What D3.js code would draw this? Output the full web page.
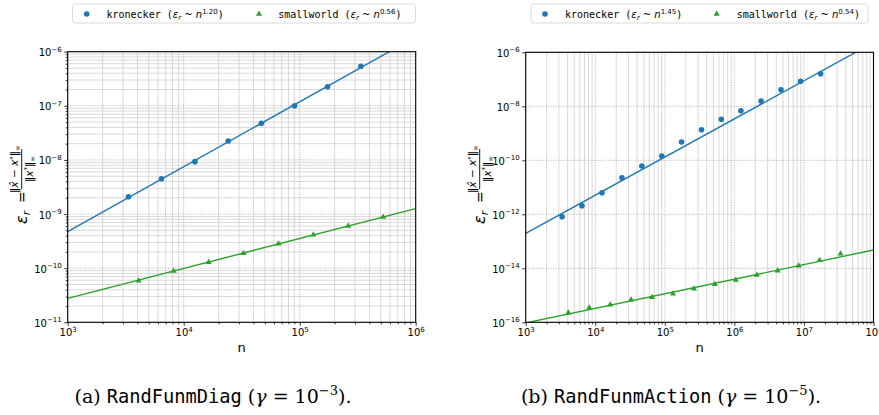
<!DOCTYPE html>
<html>
<head>
<meta charset="utf-8">
<script src="https://cdn.jsdelivr.net/npm/d3@7"></script>
<style>
  body { margin: 0; background: #fff; }
  svg { display: block; }
  .tick text { font-family: 'DejaVu Sans', sans-serif; }
</style>
</head>
<body>
<div id="chart"></div>
<script>
// problem sizes
const kronN = [3340, 6430, 12500, 24200, 46700, 90400, 174000, 337000, 649000, 1240000, 2420000, 4680000, 8970000, 17400000];
const swN = [4096, 8192, 16384, 32768, 65536, 131072, 262144, 524288, 1048576, 2097152, 4194304, 8388608, 16777216, 33554432];

// (a) RandFunmDiag
const diagKron = [2.09e-9, 4.5e-9, 9.3e-9, 2.24e-8, 4.75e-8, 1.0e-7, 2.25e-7, 5.37e-7];
const diagSw = [5.87e-11, 8.87e-11, 1.29e-10, 1.88e-10, 2.83e-10, 4.16e-10, 6.02e-10, 8.83e-10];
const diagKronFit = [[1e3, 4.72e-10], [1e6, 1.88e-6]];
const diagSwFit = [[1e3, 2.77e-11], [1e6, 1.26e-9]];

// (b) RandFunmAction
const actKron = [8.15e-13, 2.08e-12, 6.3e-12, 2.27e-11, 6.15e-11, 1.44e-10, 4.76e-10, 1.36e-9, 3.3e-9, 6.87e-9, 1.57e-8, 4.12e-8, 8.43e-8, 1.61e-7];
const actSw = [2.27e-16, 3.48e-16, 4.49e-16, 6.87e-16, 8.43e-16, 1.15e-15, 1.75e-15, 2.55e-15, 3.69e-15, 5.65e-15, 8.15e-15, 1.25e-14, 1.98e-14, 3.48e-14];
const actKronFit = [[1e3, 1.98e-13], [1e8, 2.3e-6]];
const actSwFit = [[1e3, 9.5e-17], [1e8, 4.77e-14]];

const kronColor = '#1f77b4';
const swColor = '#2ca02c';

const svg = d3.select('#chart').append('svg')
  .attr('width', 879)
  .attr('height', 415);

function supText(sel, base, exp, size) {
  sel.append('tspan').text(base);
  sel.append('tspan').attr('dy', -size * 0.45).attr('font-size', size * 0.7).text(exp);
}

function drawPanel(p) {
  const x = d3.scaleLog().domain(p.xDomain).range([p.left, p.right]);
  const y = d3.scaleLog().domain(p.yDomain).range([p.bottom, p.top]);
  const g = svg.append('g');

  const xMajor = d3.range(Math.log10(p.xDomain[0]), Math.log10(p.xDomain[1]) + 1).map(e => Math.pow(10, e));
  const xMinor = [];
  xMajor.slice(0, -1).forEach(v => { for (let k = 2; k < 10; k++) xMinor.push(v * k); });
  const yMajor = p.yTicks;
  const yMinor = [];
  if (p.yMinor) {
    yMajor.slice(0, -1).forEach(v => { for (let k = 2; k < 10; k++) yMinor.push(v * k); });
  }

  // grid
  g.append('g').selectAll('line').data(xMinor).enter().append('line')
    .attr('x1', d => x(d)).attr('x2', d => x(d))
    .attr('y1', p.top).attr('y2', p.bottom)
    .attr('stroke', '#cfcfcf').attr('stroke-width', 0.8);
  g.append('g').selectAll('line').data(yMinor).enter().append('line')
    .attr('y1', d => y(d)).attr('y2', d => y(d))
    .attr('x1', p.left).attr('x2', p.right)
    .attr('stroke', '#cfcfcf').attr('stroke-width', 0.8);
  g.append('g').selectAll('line').data(xMajor).enter().append('line')
    .attr('x1', d => x(d)).attr('x2', d => x(d))
    .attr('y1', p.top).attr('y2', p.bottom)
    .attr('stroke', '#a0a0a0').attr('stroke-width', 0.8).attr('stroke-dasharray', '1,1.5');
  g.append('g').selectAll('line').data(yMajor).enter().append('line')
    .attr('y1', d => y(d)).attr('y2', d => y(d))
    .attr('x1', p.left).attr('x2', p.right)
    .attr('stroke', '#a0a0a0').attr('stroke-width', 0.8).attr('stroke-dasharray', '1,1.5');

  // clip
  const clipId = 'clip' + p.id;
  svg.append('clipPath').attr('id', clipId).append('rect')
    .attr('x', p.left).attr('y', p.top)
    .attr('width', p.right - p.left).attr('height', p.bottom - p.top);

  const line = d3.line().x(d => x(d[0])).y(d => y(d[1]));
  const plot = g.append('g').attr('clip-path', `url(#${clipId})`);
  plot.append('path').datum(p.kronFit).attr('d', line)
    .attr('fill', 'none').attr('stroke', kronColor).attr('stroke-width', 1.4);
  plot.append('path').datum(p.swFit).attr('d', line)
    .attr('fill', 'none').attr('stroke', swColor).attr('stroke-width', 1.4);

  g.append('g').selectAll('circle').data(p.kron).enter().append('circle')
    .attr('cx', (d, i) => x(kronN[i])).attr('cy', d => y(d))
    .attr('r', 2.8).attr('fill', kronColor);
  const tri = d3.symbol().type(d3.symbolTriangle).size(16);
  g.append('g').selectAll('path').data(p.sw).enter().append('path')
    .attr('d', tri)
    .attr('transform', (d, i) => `translate(${x(swN[i])},${y(d)})`)
    .attr('fill', swColor);

  // axes
  const xAxis = g.append('g').attr('transform', `translate(0,${p.bottom})`)
    .call(d3.axisBottom(x).tickValues(xMajor).tickSize(3.5).tickFormat(''));
  xAxis.select('.domain').remove();
  xAxis.selectAll('.tick').append('text')
    .attr('y', 14).attr('fill', '#000').attr('font-size', 10).attr('text-anchor', 'middle')
    .each(function (d) { supText(d3.select(this), '10', String(Math.round(Math.log10(d))), 10); });
  g.append('g').attr('transform', `translate(0,${p.bottom})`)
    .call(d3.axisBottom(x).tickValues(xMinor).tickSize(2).tickFormat(''))
    .select('.domain').remove();

  const yAxis = g.append('g').attr('transform', `translate(${p.left},0)`)
    .call(d3.axisLeft(y).tickValues(yMajor).tickSize(3.5).tickFormat(''));
  yAxis.select('.domain').remove();
  yAxis.selectAll('.tick').append('text')
    .attr('x', -6).attr('dy', 4).attr('fill', '#000').attr('font-size', 10).attr('text-anchor', 'end')
    .each(function (d) { supText(d3.select(this), '10', '\u2212' + Math.round(-Math.log10(d)), 10); });
  if (yMinor.length) {
    g.append('g').attr('transform', `translate(${p.left},0)`)
      .call(d3.axisLeft(y).tickValues(yMinor).tickSize(2).tickFormat(''))
      .select('.domain').remove();
  }
  g.selectAll('.tick line').attr('stroke', '#000').attr('stroke-width', 0.8);

  g.append('rect')
    .attr('x', p.left).attr('y', p.top)
    .attr('width', p.right - p.left).attr('height', p.bottom - p.top)
    .attr('fill', 'none').attr('stroke', '#000').attr('stroke-width', 1.1);

  // x label
  g.append('text')
    .attr('x', (p.left + p.right) / 2).attr('y', 352)
    .attr('text-anchor', 'middle').attr('font-family', 'DejaVu Sans, sans-serif')
    .attr('font-size', 13).text('n');

  // y label: eps_r = ||x^ - x*||inf / ||x*||inf
  const yl = g.append('g').attr('transform', `translate(${p.left - 46},187) rotate(-90)`)
    .attr('font-family', 'DejaVu Sans, sans-serif').attr('fill', '#000');
  const eps = yl.append('text').attr('x', -37).attr('y', 5).attr('font-size', 16);
  eps.append('tspan').attr('font-style', 'italic').text('\u03b5');
  eps.append('tspan').attr('font-style', 'italic').attr('font-size', 11).attr('dy', 3).text('r');
  yl.append('text').attr('x', -16).attr('y', 5).attr('font-size', 14).text('=');
  const num = yl.append('text').attr('x', 18).attr('y', -3.5).attr('font-size', 10.5).attr('text-anchor', 'middle');
  num.append('tspan').text('\u2016');
  num.append('tspan').attr('font-style', 'italic').text('x\u0302');
  num.append('tspan').text(' \u2212 ');
  num.append('tspan').attr('font-style', 'italic').text('x');
  num.append('tspan').attr('font-size', 7).attr('dy', -3.5).text('*');
  num.append('tspan').attr('dy', 3.5).text('\u2016');
  num.append('tspan').attr('font-size', 7).attr('dy', 2).text('\u221e');
  yl.append('line').attr('x1', -2).attr('x2', 38).attr('y1', 0).attr('y2', 0)
    .attr('stroke', '#000').attr('stroke-width', 0.9);
  const den = yl.append('text').attr('x', 18).attr('y', 11).attr('font-size', 10.5).attr('text-anchor', 'middle');
  den.append('tspan').text('\u2016');
  den.append('tspan').attr('font-style', 'italic').text('x');
  den.append('tspan').attr('font-size', 7).attr('dy', -3.5).text('*');
  den.append('tspan').attr('dy', 3.5).text('\u2016');
  den.append('tspan').attr('font-size', 7).attr('dy', 2).text('\u221e');

  // legend
  const lg = g.append('g');
  lg.append('rect')
    .attr('x', p.legend.x).attr('y', 4).attr('width', p.legend.w).attr('height', 19)
    .attr('rx', 2.5).attr('fill', '#fff').attr('stroke', '#d6d6d6').attr('stroke-width', 0.9);
  lg.append('circle').attr('cx', p.legend.m1).attr('cy', 14).attr('r', 2.8).attr('fill', kronColor);
  lg.append('path').attr('d', tri).attr('transform', `translate(${p.legend.m2},14)`).attr('fill', swColor);
  [[p.legend.t1, 'kronecker', p.kronExp], [p.legend.t2, 'smallworld', p.swExp]].forEach(([tx, name, ex]) => {
    const t = lg.append('text').attr('x', tx).attr('y', 17.5).attr('font-size', 10)
      .attr('font-family', 'DejaVu Sans Mono, monospace');
    t.append('tspan').text(name + ' (');
    t.append('tspan').attr('font-family', 'DejaVu Sans, sans-serif').attr('font-style', 'italic').text('\u03b5');
    t.append('tspan').attr('font-family', 'DejaVu Sans, sans-serif').attr('font-style', 'italic')
      .attr('font-size', 7).attr('dy', 2).text('r');
    t.append('tspan').attr('font-family', 'DejaVu Sans, sans-serif').attr('dy', -2).text(' ~ ');
    t.append('tspan').attr('font-family', 'DejaVu Sans, sans-serif').attr('font-style', 'italic').text('n');
    t.append('tspan').attr('font-family', 'DejaVu Sans, sans-serif').attr('font-size', 7).attr('dy', -4).text(ex);
    t.append('tspan').attr('dy', 4).text(')');
  });

  // caption
  const cap = svg.append('text').attr('x', p.capX).attr('y', 403)
    .attr('text-anchor', 'middle').attr('font-size', 19)
    .attr('font-family', 'DejaVu Serif, serif').attr('fill', '#000');
  cap.append('tspan').text(p.capLetter + ' ');
  cap.append('tspan').attr('font-family', 'DejaVu Sans Mono, monospace').attr('font-size', 18.7).text(p.capName);
  cap.append('tspan').text(' (');
  cap.append('tspan').attr('font-style', 'italic').text('\u03b3');
  cap.append('tspan').text(' = 10');
  cap.append('tspan').attr('font-size', 13).attr('dy', -8).text('\u2212' + p.capExp);
  cap.append('tspan').attr('dy', 8).text(').');
}

drawPanel({
  id: 'a', xDomain: [1e3, 1e6], yDomain: [1e-11, 1e-6],
  left: 67.7, right: 415.7, top: 51.7, bottom: 322.3,
  yTicks: [1e-11, 1e-10, 1e-9, 1e-8, 1e-7, 1e-6], yMinor: true,
  kron: diagKron, sw: diagSw, kronFit: diagKronFit, swFit: diagSwFit,
  kronExp: '1.20', swExp: '0.56',
  legend: { x: 72.5, w: 343, m1: 86.7, t1: 106.5, m2: 259, t2: 278.3 },
  capX: 213, capLetter: '(a)', capName: 'RandFunmDiag', capExp: '3'
});

drawPanel({
  id: 'b', xDomain: [1e3, 1e8], yDomain: [1e-16, 1e-6],
  left: 525.7, right: 873.5, top: 52.3, bottom: 322.3,
  yTicks: [1e-16, 1e-14, 1e-12, 1e-10, 1e-8, 1e-6], yMinor: false,
  kron: actKron, sw: actSw, kronFit: actKronFit, swFit: actSwFit,
  kronExp: '1.45', swExp: '0.54',
  legend: { x: 531, w: 337, m1: 545, t1: 565, m2: 716.7, t2: 736.7 },
  capX: 671, capLetter: '(b)', capName: 'RandFunmAction', capExp: '5'
});
</script>
</body>
</html>
